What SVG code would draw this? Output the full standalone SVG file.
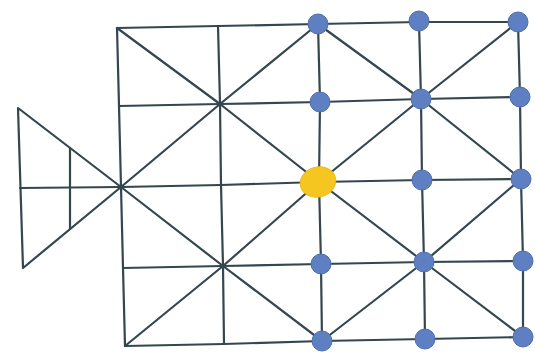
<svg xmlns="http://www.w3.org/2000/svg" width="535" height="354" viewBox="0 0 535 354">
<style>
.ln{stroke:#34464e;stroke-width:2.2;fill:none;stroke-linecap:round;stroke-linejoin:round}
.bl{fill:#5e7fc2;stroke:#4f6eab;stroke-width:1}
.yl{fill:#f5c520;stroke:#efbd1a;stroke-width:1}
</style>
<rect width="535" height="354" fill="#ffffff"/>
<g id="connectors" class="ln">
<polyline points="117,28 218,26 318,24 419,22 518,22"/>
<polyline points="119,106 220,104 320,102 421,99 520,97"/>
<polyline points="20,188 121,187 221,185 319,182 422,180 521,179"/>
<polyline points="123,268 223,266 321,264 424,262 523,261"/>
<polyline points="125,346 224,344 322,341 425,339 523,337"/>
<polyline points="117,28 119,106 121,187 123,268 125,346"/>
<polyline points="218,26 220,104 221,185 223,266 224,344"/>
<polyline points="318,24 320,102 319,182 321,264 322,341"/>
<polyline points="419,22 421,99 422,180 424,262 425,339"/>
<polyline points="518,22 520,97 521,179 523,261 523,337"/>
<polyline points="117,28 220,104 319,182 424,262 523,337"/>
<polyline points="125,346 223,266 319,182 421,99 518,22"/>
<polyline points="121,187 220,104 318,24"/>
<polyline points="318,24 421,99 521,179"/>
<polyline points="121,187 223,266 322,341"/>
<polyline points="322,341 424,262 521,179"/>
<polygon points="18,108 121,187 23,268"/>
<line x1="70" y1="148" x2="70" y2="228"/>
</g>
<g id="n-r0c2"><circle class="bl" cx="318" cy="24" r="10"/></g>
<g id="n-r0c3"><circle class="bl" cx="419" cy="21" r="10"/></g>
<g id="n-r0c4"><circle class="bl" cx="518" cy="22" r="10"/></g>
<g id="n-r1c2"><circle class="bl" cx="320" cy="102" r="10"/></g>
<g id="n-r1c3"><circle class="bl" cx="421" cy="99" r="10"/></g>
<g id="n-r1c4"><circle class="bl" cx="520" cy="97" r="10"/></g>
<g id="n-r2c2"><ellipse class="yl" cx="318" cy="182" rx="18" ry="15" transform="rotate(-15 318 182)"/></g>
<g id="n-r2c3"><circle class="bl" cx="422" cy="180" r="10"/></g>
<g id="n-r2c4"><circle class="bl" cx="521" cy="179" r="10"/></g>
<g id="n-r3c2"><circle class="bl" cx="321" cy="264" r="10"/></g>
<g id="n-r3c3"><circle class="bl" cx="424" cy="262" r="10"/></g>
<g id="n-r3c4"><circle class="bl" cx="523" cy="261" r="10"/></g>
<g id="n-r4c2"><circle class="bl" cx="322" cy="341" r="10"/></g>
<g id="n-r4c3"><circle class="bl" cx="425" cy="339" r="10"/></g>
<g id="n-r4c4"><circle class="bl" cx="523" cy="337" r="10"/></g>
</svg>
